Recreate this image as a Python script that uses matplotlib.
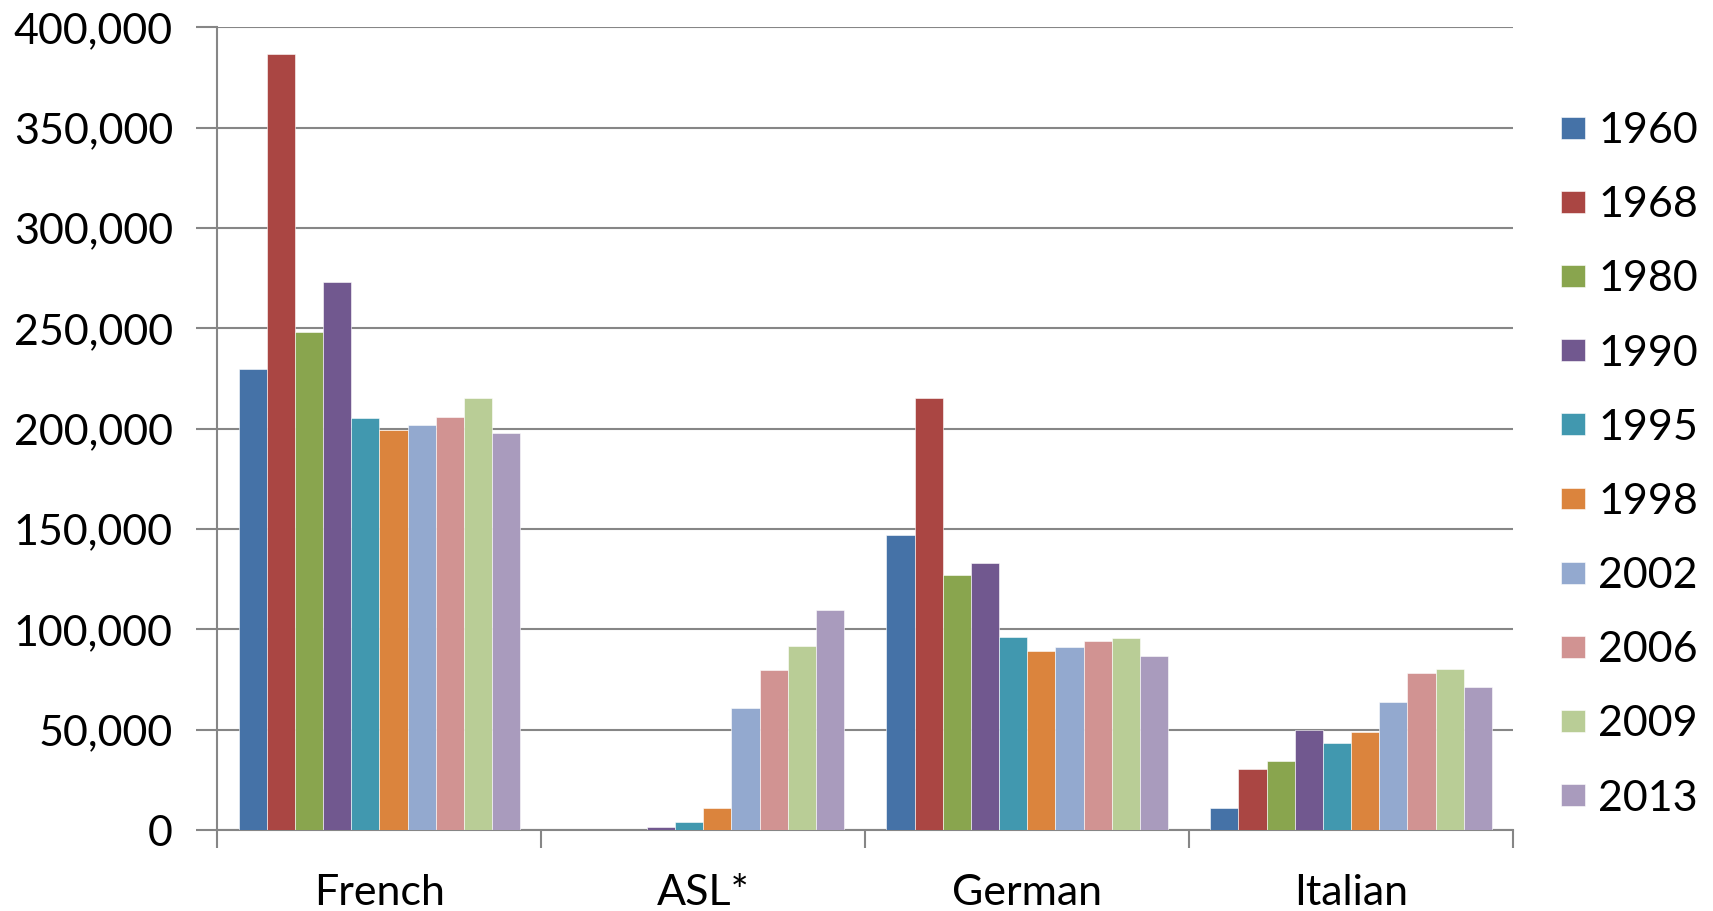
import matplotlib
matplotlib.use("Agg")
import matplotlib.pyplot as plt
import numpy as np
from matplotlib.ticker import FuncFormatter, FixedLocator

# categories and yearly enrollment values
languages = ["French", "ASL*", "German", "Italian"]
years = ["1960", "1968", "1980", "1990", "1995", "1998", "2002", "2006", "2009", "2013"]

y1960 = [229500, 0, 147000, 10900]
y1968 = [386500, 0, 215500, 30400]
y1980 = [248400, 0, 127000, 34600]
y1990 = [273000, 1300, 133000, 50000]
y1995 = [205500, 4200, 96000, 43600]
y1998 = [199300, 11000, 89000, 49000]
y2002 = [202000, 60600, 91000, 63800]
y2006 = [206000, 79600, 94000, 78200]
y2009 = [215300, 91800, 95500, 80400]
y2013 = [198000, 109500, 86500, 71200]
series = [y1960, y1968, y1980, y1990, y1995, y1998, y2002, y2006, y2009, y2013]

colors = ["#4572A7", "#AA4643", "#89A54E", "#71588F", "#4198AF",
          "#DB843D", "#93A9CF", "#D19392", "#B9CD96", "#A99BBD"]

plt.rcParams['font.family'] = ['Lato', 'DejaVu Sans']
grid_color = "#868686"
fsize = 31

fig = plt.figure(figsize=(17.13, 9.11), dpi=100)
ax = fig.add_axes([0.1269, 0.0889, 0.7564, 0.8811])

x = np.arange(len(languages))
n = len(series)
group = 10 / 11.5
width = group / n
for i, (vals, col, yr) in enumerate(zip(series, colors, years)):
    offs = -group / 2 + width * (i + 0.5)
    ax.bar(x + offs, vals, width, color=col, label=yr,
           edgecolor="white", linewidth=0.4, zorder=3)

ax.set_xlim(-0.5, len(languages) - 0.5)
ax.set_ylim(0, 400000)
ax.set_yticks(np.arange(0, 400001, 50000))
ax.yaxis.set_major_formatter(FuncFormatter(lambda v, p: f"{int(v):,}"))
ax.grid(axis="y", color=grid_color, linewidth=1.5, zorder=0)

ax.set_xticks(x)
ax.set_xticklabels(languages)
ax.xaxis.set_minor_locator(FixedLocator(np.arange(-0.5, len(languages), 1.0)))
ax.tick_params(axis="x", which="major", length=0, pad=32, labelsize=fsize)
ax.tick_params(axis="x", which="minor", length=13, width=1.5, color=grid_color)
ax.tick_params(axis="y", length=15, width=1.5, color=grid_color, pad=17, labelsize=fsize)

for s in ["top", "right"]:
    ax.spines[s].set_visible(False)
for s in ["left", "bottom"]:
    ax.spines[s].set_color(grid_color)
    ax.spines[s].set_linewidth(1.5)

ax.legend(loc="center left", bbox_to_anchor=(1.024, 0.455), frameon=False,
          fontsize=fsize, handlelength=0.55, handleheight=0.4,
          handletextpad=0.3, labelspacing=0.84, borderaxespad=0)

fig.savefig("out.png", dpi=100)
